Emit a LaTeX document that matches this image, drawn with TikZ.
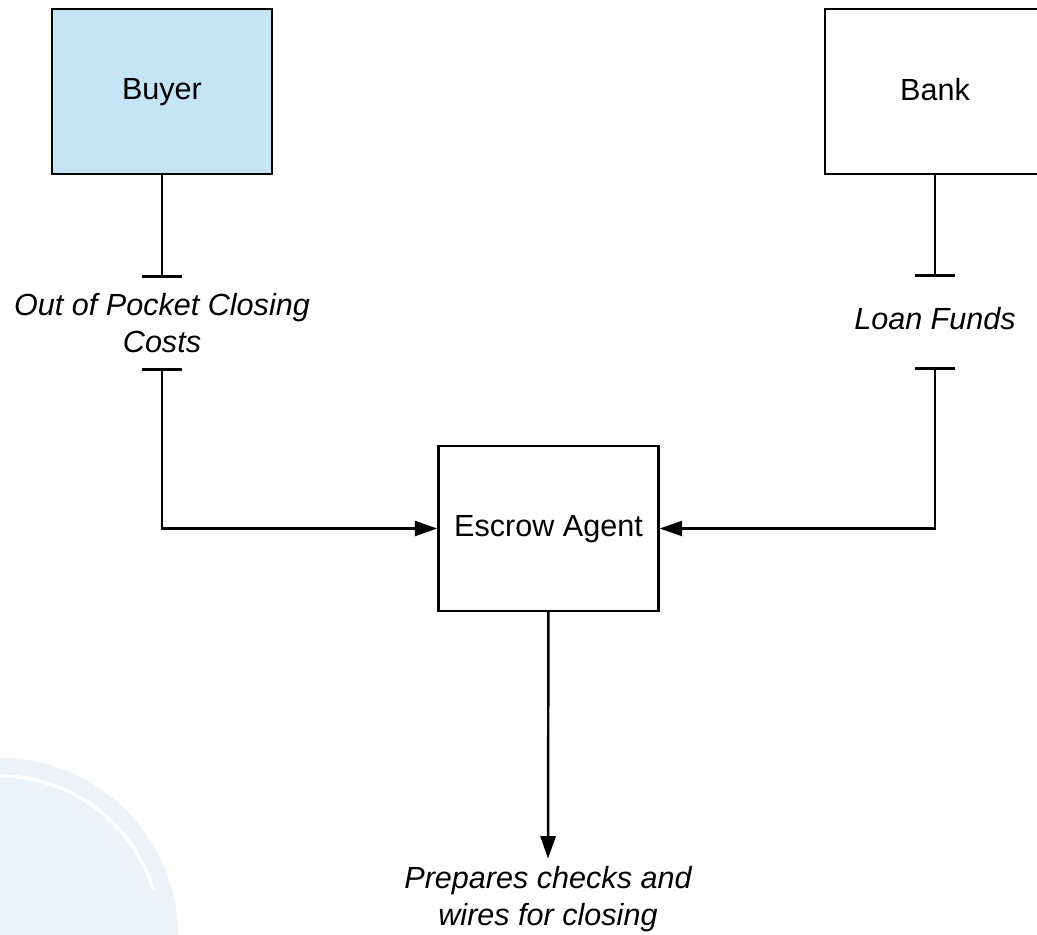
\documentclass[tikz,border=0pt]{standalone}
\usepackage{fontspec}
\setmainfont{Liberation Sans}
\usetikzlibrary{positioning, arrows.meta}
\definecolor{buyerblue}{HTML}{C5E4F6}
\definecolor{wmgray}{HTML}{EDF2F7}
\begin{document}
\begin{tikzpicture}[
      x=0.02cm, y=-0.02cm,
      every node/.style={font=\fontsize{17.4}{20.8}\selectfont},
      party/.style={draw, line width=1.4pt, fill=#1, text depth=0.1cm,
                    minimum width=4.4cm, minimum height=3.3cm, align=center},
      flow/.style={align=center, inner sep=0pt, minimum height=1.8cm,
                   font=\fontsize{17.4}{20.8}\selectfont\itshape},
      >={Triangle[length=0.45cm, width=0.3cm]},
    ]
    \useasboundingbox (0,0) rectangle (1037,935);
    % faint watermark, lower left
    \fill[wmgray] (0,936) circle[radius=178];
    \draw[white, line width=2pt] (0,776) arc[start angle=-90, end angle=-17, radius=160];

    \node[party=buyerblue] (buyer)  at (162, 91.5)  {Buyer};
    \node[party=white]     (bank)   at (935, 91.5)  {Bank};
    \node[party=white]     (escrow) at (548.5, 528.5) {Escrow Agent};

    \node[flow] (oop)  at (162, 323) {Out of Pocket Closing\\Costs};
    \node[flow, text depth=0.16cm] (loan) at (935, 322) {Loan Funds};
    \node[flow, minimum height=1.6cm] (prep) at (548, 899) {Prepares checks and\\wires for closing};

    \draw[line width=1.4pt, -{Bar[width=0.8cm]}] (buyer) -- (oop);
    \draw[line width=1.4pt, -{Bar[width=0.8cm]}] (bank) -- (loan);
    \draw[line width=1.4pt, {Bar[width=0.8cm]}->] (oop) |- (escrow);
    \draw[line width=1.4pt, {Bar[width=0.8cm]}->] (loan) |- (escrow);
    \draw[line width=1.4pt, ->] (escrow) -- (prep);
  \end{tikzpicture}
\end{document}
